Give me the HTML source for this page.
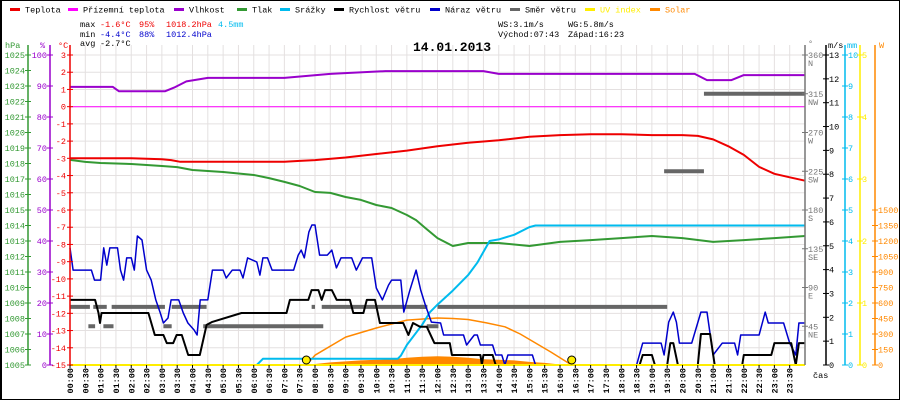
<!DOCTYPE html>
<html><head><meta charset="utf-8">
<style>
html,body{margin:0;padding:0;background:#fff}
svg{display:block}
text{font-family:"Liberation Mono",monospace;font-size:8.5px}
</style></head>
<body>
<svg id="chart" width="900" height="400" xmlns="http://www.w3.org/2000/svg">
<rect x="0.5" y="0.5" width="899" height="399" fill="#fff" stroke="#000" stroke-width="1"/>
<line x1="1" y1="0" x2="1" y2="400" stroke="#000" stroke-width="2"/>
<g id="grid"></g>
<g id="series"></g>
<g id="axes"></g>
<g id="legend"></g>
<g>
<text x="80" y="27" fill="#000">max</text>
<text x="100" y="27" fill="#ee0000">-1.6°C</text>
<text x="139" y="27" fill="#ee0000">95%</text>
<text x="166" y="27" fill="#ee0000">1018.2hPa</text>
<text x="218" y="27" fill="#00bbee">4.5mm</text>
<text x="80" y="37" fill="#000">min</text>
<text x="100" y="37" fill="#0000cc">-4.4°C</text>
<text x="139" y="37" fill="#0000cc">88%</text>
<text x="166" y="37" fill="#0000cc">1012.4hPa</text>
<text x="80" y="46" fill="#000">avg</text>
<text x="100" y="46" fill="#000">-2.7°C</text>
<text x="498" y="27" fill="#000">WS:3.1m/s</text>
<text x="568" y="27" fill="#000">WG:5.8m/s</text>
<text x="498" y="37" fill="#000">Východ:07:43</text>
<text x="568" y="37" fill="#000">Západ:16:23</text>
<text x="413" y="51" fill="#000" style="font-size:13px;font-weight:bold">14.01.2013</text>
<text x="813" y="378" fill="#000">čas</text>
</g>
</svg>
<script>
// ---- data ----
const tempT=[0,1,2,3,3.3,3.6,5,7,7.5,8,9,10,11,12,13,14,15,16,17,18,19,20,20.5,21,21.5,22,22.5,23,23.5,24];
const tempV=[-3.0,-3.0,-3.0,-3.05,-3.1,-3.2,-3.2,-3.2,-3.15,-3.1,-2.95,-2.75,-2.55,-2.3,-2.1,-1.95,-1.75,-1.65,-1.6,-1.6,-1.65,-1.65,-1.7,-1.9,-2.3,-2.8,-3.5,-3.9,-4.1,-4.3];
const feelT=[0,24];
const feelV=[0,0];
const humT=[0,1.4,1.6,3.1,3.4,3.8,4.5,7,8.5,10.3,13.5,14,20.4,20.8,21.6,22,24];
const humV=[89.7,89.7,88.3,88.3,89.5,91.5,92.6,92.6,93.9,94.8,94.8,93.9,93.9,91.9,91.9,93.5,93.5];
const presT=[0,0.5,1,2,3,3.5,4,5,6,6.5,7,7.5,8,8.5,9,9.5,10,10.5,11,11.3,11.6,12,12.5,13,14,15,16,17,18,19,20,21,22,23,24];
const presV=[1018.23,1018.1,1018.03,1017.97,1017.84,1017.77,1017.58,1017.45,1017.26,1017.06,1016.81,1016.55,1016.16,1016.1,1015.84,1015.65,1015.32,1015.13,1014.68,1014.35,1013.84,1013.19,1012.68,1012.87,1012.87,1012.68,1012.94,1013.06,1013.19,1013.32,1013.19,1012.94,1013.06,1013.19,1013.32];
const rainT=[0,6.1,6.3,10.7,10.8,11,11.5,11.75,12,12.5,13,13.3,13.7,14,14.5,15,15.2,24];
const rainV=[0,0,0.2,0.2,0.3,0.65,1.3,1.7,1.95,2.4,2.9,3.3,4.0,4.05,4.2,4.45,4.5,4.5];
const windT=[0,0.82,0.93,0.98,1.03,1.09,2.56,2.77,3.05,3.16,3.37,3.48,3.65,3.86,4.24,4.46,4.63,5.6,7.07,7.18,7.78,7.89,8.11,8.22,8.33,8.55,8.71,9.14,9.25,9.58,9.69,9.96,10.12,10.88,11.05,11.2,11.43,11.65,11.9,12.4,12.47,13.4,13.45,13.5,13.8,13.9,18.6,18.7,19.0,19.1,19.5,19.6,19.7,19.85,20.5,20.6,20.9,21.05,21.95,22.0,22.9,23.0,23.55,23.7,23.8,24];
const windV=[2.73,2.73,2.18,1.76,2.18,2.18,2.18,1.26,1.26,0.92,0.92,1.26,1.26,0.42,0.42,1.68,1.8,2.18,2.18,2.73,2.73,3.14,3.14,2.73,3.14,3.14,2.73,2.73,2.18,2.18,2.73,2.73,1.76,1.76,1.26,1.76,1.6,1.6,0.92,0.92,0.42,0.42,0,0.42,0.42,0,0,0.42,0.42,0,0,0.92,0.92,0,0,1.3,1.3,0,0,0.42,0.42,0.92,0.92,0,0.92,0.92];
const gustT=[0,0.1,0.7,0.8,1.0,1.1,1.2,1.3,1.55,1.65,1.75,1.85,2.0,2.1,2.2,2.35,2.5,2.65,2.8,2.95,3.05,3.2,3.3,3.55,3.7,3.85,4.05,4.15,4.25,4.5,4.65,5.0,5.1,5.3,5.55,5.65,5.8,6.1,6.2,6.3,6.45,6.6,7.3,7.45,7.55,7.65,7.8,7.9,8.0,8.15,8.4,8.55,8.7,8.85,9.2,9.35,9.55,9.85,10.0,10.2,10.4,10.5,10.8,10.9,11.1,11.3,11.45,11.6,11.8,12.1,12.2,12.85,12.95,13.2,13.3,13.4,13.8,13.9,14.1,14.2,14.3,15.1,15.2,18.5,18.7,19.3,19.4,19.55,19.7,19.8,19.9,20.3,20.6,20.8,21.0,21.3,21.7,21.8,21.9,22.5,22.7,22.8,23.3,23.5,23.7,23.8,24];
const gustV=[4.91,3.98,3.98,3.56,3.56,4.91,4.19,4.91,4.91,3.98,3.56,4.49,4.49,3.98,5.41,5.24,3.98,3.56,2.73,2.18,1.76,1.97,2.73,2.73,2.18,1.76,1.47,1.26,2.73,2.73,3.98,3.98,3.65,3.98,3.98,3.65,4.49,4.32,3.77,4.49,4.49,3.98,3.98,4.61,4.82,4.49,5.58,5.87,5.87,4.61,4.61,4.82,4.07,4.49,4.49,3.98,4.49,4.49,3.23,2.73,3.35,3.56,3.56,2.22,3.14,3.98,3.14,2.52,1.8,1.76,1.26,1.26,0.84,1.26,1.26,0.84,0.84,0.42,0.42,0,0.42,0.42,0,0,0.92,0.92,0.42,1.8,2.22,1.8,0.92,0.92,2.22,2.22,0.42,0.92,0.92,0.42,1.26,1.26,2.22,1.76,1.76,0.92,0.42,1.76,1.76];
const dirStart=[0,0.76,1.36,3.32,7.89,8.22,11.43,12.0,0.6,1.09,3.05,4.35,11.65,19.4,20.7];
const dirEnd=[0.65,1.2,3.1,4.46,8.0,11.65,11.67,19.5,0.82,1.42,3.32,8.27,12.03,20.7,24];
const dirDeg=[67.5,67.5,67.5,67.5,67.5,67.5,67.5,67.5,45,45,45,45,45,225,315];
const solT=[7.7,8,8.5,9,9.5,10,10.5,11,11.5,12,12.5,13,13.5,14,14.5,15,15.5,16,16.2];
const solV=[0,10,25,35,45,50,55,70,80,85,80,70,55,50,45,30,20,5,0];
const clrT=[7.72,8,9,10,11,12,12.5,13,13.6,14.2,14.7,15.2,15.7,16.38];
const clrV=[0,95,270,358,435,455,450,440,407,370,300,213,126,0];
const sunEvents=[7.717,16.383];
const hpaTicks=[1005,1006,1007,1008,1009,1010,1011,1012,1013,1014,1015,1016,1017,1018,1019,1020,1021,1022,1023,1024,1025];
const humTicks=[0,10,20,30,40,50,60,70,80,90,100];
const tempTicks=[-15,-14,-13,-12,-11,-10,-9,-8,-7,-6,-5,-4,-3,-2,-1,0,1,2,3];
const dirTicks=[45,90,135,180,225,270,315,360];
const dirNames=["NE","E","SE","S","SW","W","NW","N"];
const msTicks=[0,1,2,3,4,5,6,7,8,9,10,11,12,13];
const mmTicks=[0,1,2,3,4,5,6,7,8,9,10];
const uvTicks=[0,1,2,3,4,5];
const wTicks=[0,150,300,450,600,750,900,1050,1200,1350,1500];

// ---- scales ----
const X0=70,X1=805,YT=55,YB=365,H=YB-YT;
const xS=t=>X0+t*(X1-X0)/24;
const yTemp=v=>YB-(v+15)*H/18;
const yHum=v=>YB-v*H/100;
const yHpa=v=>YB-(v-1005)*H/20;
const yMs=v=>YB-v*H/13;
const yDir=v=>YB-v*H/360;
const yMm=v=>YB-v*H/10;
const yUv=v=>YB-v*H/5;
const yW=v=>YB-v*H/3000;

const NS="http://www.w3.org/2000/svg";
function mk(tag,attrs,parent){const e=document.createElementNS(NS,tag);for(const k in attrs)e.setAttribute(k,attrs[k]);parent.appendChild(e);return e;}
const grid=document.getElementById('grid'),ser=document.getElementById('series'),ax=document.getElementById('axes'),leg=document.getElementById('legend');

for(let i=0;i<=48;i++){const x=xS(i/2);const l=mk('line',{x1:x,y1:YT-10,x2:x,y2:YB,stroke:'#e4e0e0','stroke-width':1},grid);

}
tempTicks.forEach(v=>{const y=yTemp(v);const l=mk('line',{x1:X0,y1:y,x2:X1,y2:y,stroke:'#e4e0e0','stroke-width':1},grid);

});

function line(T,V,ys,color,w,name){const p=T.map((t,i)=>xS(t).toFixed(1)+','+ys(V[i]).toFixed(1)).join(' ');
const e=mk('polyline',{points:p,fill:'none',stroke:color,'stroke-width':w,'stroke-linejoin':'round'},ser);

return e;}

{const pts=solT.map((t,i)=>xS(t).toFixed(1)+','+yW(solV[i]).toFixed(1));
const e=mk('polygon',{points:xS(solT[0])+','+YB+' '+pts.join(' ')+' '+xS(solT[solT.length-1])+','+YB,fill:'#ff8800'},ser);

}
line(clrT,clrV,yW,'#ff8800',1.5,'solar-clear-sky-line');
line(feelT,feelV,yTemp,'#ff00ff',1,'apparent-temp-line');
line(humT,humV,yHum,'#9900cc',2,'humidity-line');
line(presT,presV,yHpa,'#339933',2,'pressure-line');
line(tempT,tempV,yTemp,'#ee0000',2,'temperature-line');
dirDeg.forEach((d,i)=>{const y=yDir(d);const e=mk('line',{x1:xS(dirStart[i]),y1:y,x2:xS(dirEnd[i]),y2:y,stroke:'#666','stroke-width':4},ser);

});
line(rainT,rainV,yMm,'#00bbee',2,'rain-line');
line(gustT,gustV,yMs,'#0000cc',1.5,'gust-line');
line(windT,windV,yMs,'#000',2,'wind-speed-line');
{const e=mk('line',{x1:X0,y1:YB,x2:X1,y2:YB,stroke:'#ffee00','stroke-width':2},ser);

}
sunEvents.forEach(t=>{const c=mk('circle',{cx:xS(t),cy:YB-5,r:4,fill:'#ffee00',stroke:'#000','stroke-width':1},ser);

});

function vaxis(x,color,name){const e=mk('line',{x1:x,y1:YT-10,x2:x,y2:YB,stroke:color,'stroke-width':1.5},ax);

}
function tl(x,y,txt,color,anchor,name){const e=mk('text',{x:x,y:y,fill:color,'text-anchor':anchor},ax);e.textContent=txt;

return e;}
function tick(x,y,color){mk('line',{x1:x-3,y1:y,x2:x+3,y2:y,stroke:color,'stroke-width':1},ax);}
vaxis(28,'#339933','pressure-axis');vaxis(50,'#9900cc','humidity-axis');vaxis(70,'#ee0000','temperature-axis');
vaxis(805,'#777','direction-axis');vaxis(826,'#000','wind-axis');vaxis(845,'#00bbee','rain-axis');vaxis(860,'#ffee00','uv-axis');vaxis(875,'#ff8800','solar-axis');
hpaTicks.forEach(v=>{const y=yHpa(v);tick(28,y,'#339933');tl(25,y+3,String(v),'#339933','end','pressure-tick-label');});
humTicks.forEach(v=>{const y=yHum(v);tick(50,y,'#9900cc');tl(47,y+3,String(v),'#9900cc','end','humidity-tick-label');});
tempTicks.forEach(v=>{const y=yTemp(v);tick(70,y,'#ee0000');tl(66,y+3,String(v),'#ee0000','end','temperature-tick-label');});
dirTicks.forEach((v,i)=>{const y=yDir(v);tick(805,y,'#777');tl(808,y+3,String(v),'#777','start','direction-tick-label');tl(808,y+11,dirNames[i],'#777','start','direction-name-label');});
msTicks.forEach(v=>{const y=yMs(v);tick(826,y,'#000');tl(829,y+3,String(v),'#000','start','wind-tick-label');});
mmTicks.forEach(v=>{const y=yMm(v);tick(845,y,'#00bbee');tl(848,y+3,String(v),'#00bbee','start','rain-tick-label');});
uvTicks.forEach(v=>{const y=yUv(v);tick(860,y,'#ffee00');tl(862,y+3,String(v),'#ffee00','start','uv-tick-label');});
wTicks.forEach(v=>{const y=yW(v);tick(875,y,'#ff8800');tl(878,y+3,String(v),'#ff8800','start','solar-tick-label');});
tl(5,48,'hPa','#339933','start','pressure-unit');tl(40,48,'%','#9900cc','start','humidity-unit');tl(58,48,'°C','#ee0000','start','temperature-unit');
tl(808,46,'°','#777','start','direction-unit');tl(828,48,'m/s','#000','start','wind-unit');tl(847,48,'mm','#00bbee','start','rain-unit');tl(879,48,'W','#ff8800','start','solar-unit');
for(let i=0;i<48;i++){const x=xS(i/2);mk('line',{x1:x,y1:YB,x2:x,y2:YB+3,stroke:'#000'},ax);
const h=Math.floor(i/2),m=i%2?'30':'00';const lab=(h<10?'0':'')+h+':'+m;
const e=mk('text',{x:0,y:0,fill:'#000','text-anchor':'end',transform:'translate('+(x+3)+',368) rotate(-90)',style:'font-size:8.5px;font-weight:bold'},ax);e.textContent=lab;

}

const legNames=["Teplota","Přízemní teplota","Vlhkost","Tlak","Srážky","Rychlost větru","Náraz větru","Směr větru","UV index","Solar"];
const legColors=["#ee0000","#ff00ff","#9900cc","#339933","#00bbee","#000","#0000cc","#666","#ffee00","#ff8800"];
const legX=[10,68,174,237,280,334,430,510,585,650];
legNames.forEach((n,i)=>{const g=mk('g',{},leg);


mk('rect',{x:legX[i],y:8,width:10,height:3,fill:legColors[i]},g);
const t=mk('text',{x:legX[i]+15,y:12.5,fill:(i>=8?legColors[i]:'#000')},g);t.textContent=n;});
</script>
</body></html>
